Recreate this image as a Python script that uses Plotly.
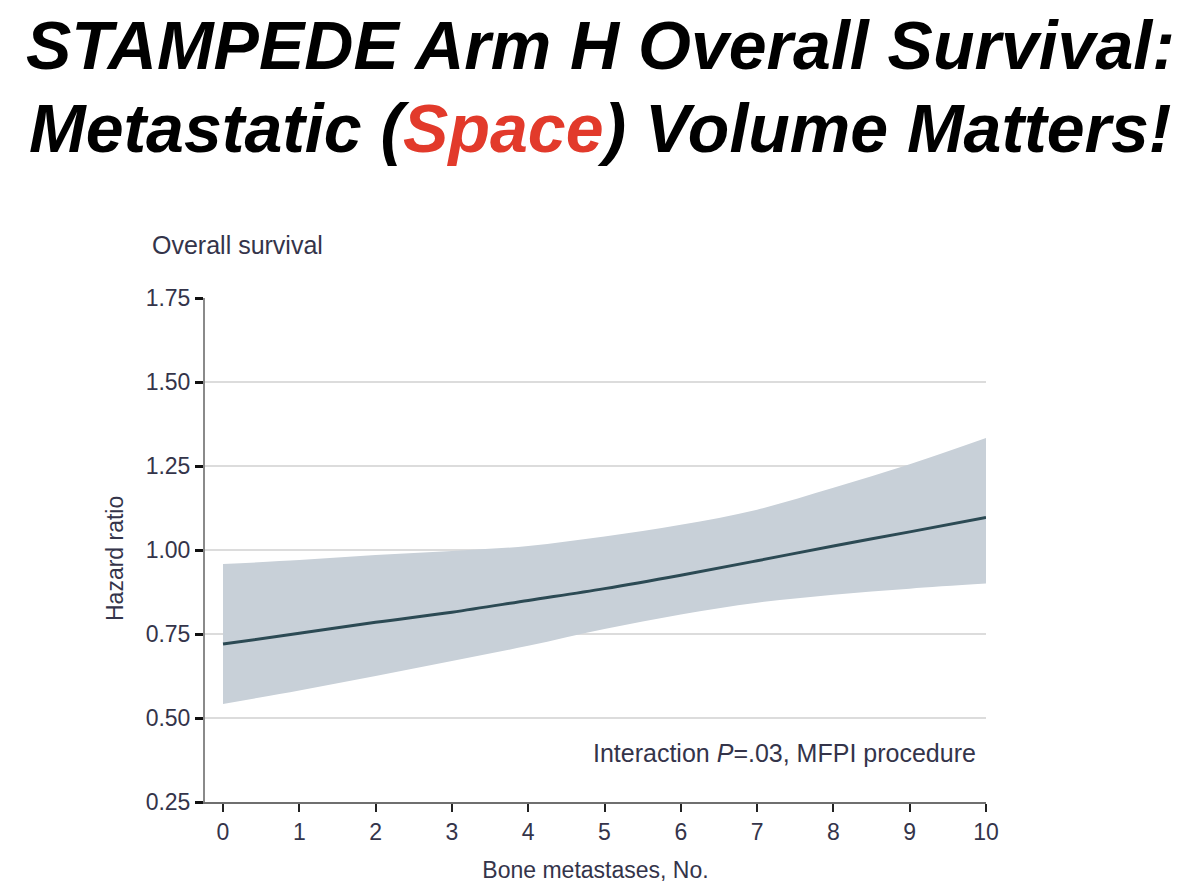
import plotly.graph_objects as go

# Data
bone_mets = [0, 1, 2, 3, 4, 5, 6, 7, 8, 9, 10]
hazard_ratio = [0.72, 0.752, 0.785, 0.815, 0.85, 0.885, 0.925, 0.968, 1.012, 1.054, 1.097]
ci_upper = [0.958, 0.97, 0.985, 0.997, 1.012, 1.04, 1.075, 1.12, 1.185, 1.255, 1.333]
ci_lower = [0.542, 0.582, 0.625, 0.67, 0.715, 0.765, 0.808, 0.843, 0.867, 0.885, 0.90]

y_ticks = [0.25, 0.50, 0.75, 1.00, 1.25, 1.50, 1.75]
y_tick_labels = ["0.25", "0.50", "0.75", "1.00", "1.25", "1.50", "1.75"]
x_ticks = list(range(0, 11))

TEXT = "#34344a"
FONT = "Liberation Sans, Arial, sans-serif"

fig = go.Figure()
fig.add_trace(go.Scatter(x=bone_mets, y=ci_lower, mode="lines", line=dict(width=0, shape="spline"),
                         showlegend=False, hoverinfo="skip"))
fig.add_trace(go.Scatter(x=bone_mets, y=ci_upper, mode="lines", line=dict(width=0, shape="spline"),
                         fill="tonexty", fillcolor="rgb(200,208,216)", showlegend=False, hoverinfo="skip"))
fig.add_trace(go.Scatter(x=bone_mets, y=hazard_ratio, mode="lines",
                         line=dict(color="#2c4a54", width=3, shape="spline"), showlegend=False))

fig.update_layout(
    width=1200, height=894,
    margin=dict(l=205, r=214, t=298, b=92),
    paper_bgcolor="white", plot_bgcolor="white",
    font=dict(family=FONT, color=TEXT, size=23),
    xaxis=dict(range=[-0.236, 10.0], tickmode="array", tickvals=x_ticks,
               showgrid=False, zeroline=False, showline=True, linecolor="#6f6f6f", linewidth=2,
               ticks="outside", ticklen=8, tickwidth=2, tickcolor="#222",
               tickfont=dict(size=23, color=TEXT),
               title=dict(text="Bone metastases, No.", font=dict(size=23, color=TEXT), standoff=18)),
    yaxis=dict(range=[0.25, 1.75], tickmode="array", tickvals=y_ticks, ticktext=y_tick_labels,
               showgrid=True, gridcolor="#dcdcdc", gridwidth=2, zeroline=False,
               showline=True, linecolor="#8a8a8a", linewidth=2,
               ticks="outside", ticklen=8, tickwidth=3, tickcolor="#111",
               tickfont=dict(size=23, color=TEXT)),
    annotations=[
        dict(text="<b><i>STAMPEDE Arm H Overall Survival:</i></b>", xref="paper", yref="paper",
             x=(600 - 205) / 781, y=(802 - 45) / 504, xanchor="center", yanchor="middle",
             showarrow=False, font=dict(family=FONT, size=68, color="black")),
        dict(text="<b><i>Metastatic (<span style='color:#e23a2b'>Space</span>) Volume Matters!</i></b>",
             xref="paper", yref="paper",
             x=(600 - 205) / 781, y=(802 - 128) / 504, xanchor="center", yanchor="middle",
             showarrow=False, font=dict(family=FONT, size=68, color="black")),
        dict(text="Overall survival", xref="paper", yref="paper",
             x=(150 - 205) / 781, y=(802 - 245) / 504, xanchor="left", yanchor="middle",
             showarrow=False, font=dict(size=25, color=TEXT)),
        dict(text="Hazard ratio", xref="paper", yref="paper", textangle=-90,
             x=(115 - 205) / 781, y=(802 - 559) / 504, xanchor="center", yanchor="middle",
             showarrow=False, font=dict(size=23, color=TEXT)),
        dict(text="Interaction <i>P</i>=.03, MFPI procedure", xref="paper", yref="paper",
             x=(978 - 205) / 781, y=(802 - 753) / 504, xanchor="right", yanchor="middle",
             showarrow=False, font=dict(size=25, color=TEXT)),
    ],
)

fig.write_html("out.html")
